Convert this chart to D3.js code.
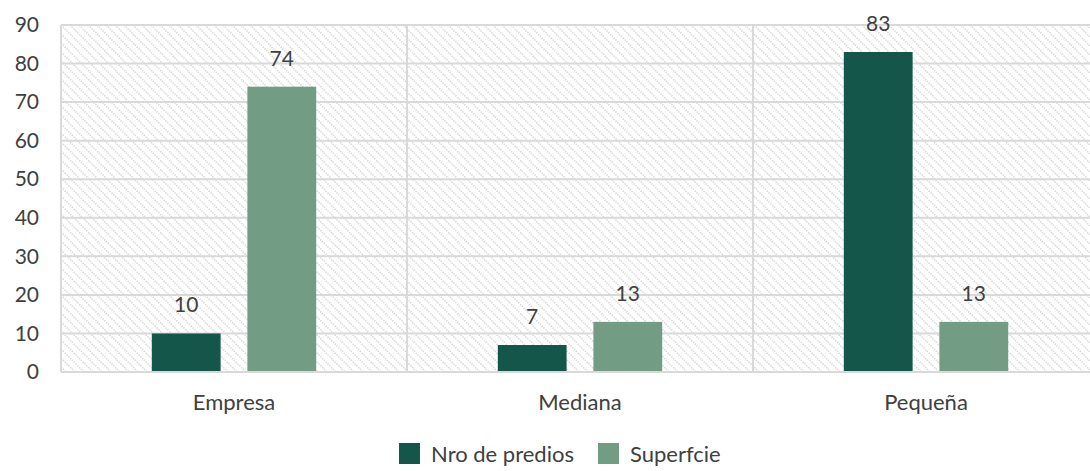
<!DOCTYPE html>
<html>
<head>
<meta charset="utf-8">
<script src="https://cdn.jsdelivr.net/npm/d3@7"></script>
<style>
  body { margin: 0; background: #fff; }
  svg text { font-family: Lato, "Open Sans", sans-serif; fill: #404040; }
</style>
</head>
<body>
<svg width="1090" height="471"></svg>
<script>
// data
var categories = ["Empresa", "Mediana", "Pequeña"];
var seriesNames = ["Nro de predios", "Superfcie"];
var nroPredios = [10, 7, 83];
var superficie = [74, 13, 13];
var yTicks = [0, 10, 20, 30, 40, 50, 60, 70, 80, 90];

var colors = ["#14574a", "#739c85"];

var svg = d3.select("svg");
var plotLeft = 61, plotRight = 1099, plotTop = 25, plotBottom = 372;

var x = d3.scaleBand()
    .domain(categories)
    .range([plotLeft, plotRight]);

var xInner = d3.scaleBand()
    .domain(seriesNames)
    .range([0, x.bandwidth()])
    .paddingInner(0.28)
    .paddingOuter(0.95);

var y = d3.scaleLinear()
    .domain([0, 90])
    .range([plotBottom, plotTop]);

// hatch pattern for the plot background
var defs = svg.append("defs");
var pat = defs.append("pattern")
    .attr("id", "hatch")
    .attr("patternUnits", "userSpaceOnUse")
    .attr("width", 9)
    .attr("height", 9);
pat.append("rect").attr("width", 9).attr("height", 9).attr("fill", "#fff");
pat.append("path")
    .attr("d", "M-2,-2 L11,11 M-2,7 L2,11 M7,-2 L11,2")
    .attr("stroke", "#d4d4d4")
    .attr("stroke-width", 1.5)
    .attr("stroke-dasharray", "1.4,1.2");

svg.append("rect")
    .attr("x", plotLeft)
    .attr("y", plotTop)
    .attr("width", plotRight - plotLeft)
    .attr("height", plotBottom - plotTop)
    .attr("fill", "url(#hatch)");

// horizontal grid
svg.append("g")
  .selectAll("line")
  .data(yTicks)
  .enter().append("line")
    .attr("x1", plotLeft)
    .attr("x2", plotRight)
    .attr("y1", function(d) { return y(d); })
    .attr("y2", function(d) { return y(d); })
    .attr("stroke", "#d9d9d9")
    .attr("stroke-width", 2);

// vertical separators between categories
svg.append("g")
  .selectAll("line")
  .data(categories)
  .enter().append("line")
    .attr("x1", function(d) { return x(d); })
    .attr("x2", function(d) { return x(d); })
    .attr("y1", plotTop)
    .attr("y2", plotBottom)
    .attr("stroke", "#d9d9d9")
    .attr("stroke-width", 2);

// y axis labels
var yAxis = svg.append("g")
    .attr("transform", "translate(" + plotLeft + ",0)")
    .call(d3.axisLeft(y).tickValues(yTicks).tickSize(0).tickPadding(22));
yAxis.select(".domain").remove();
yAxis.selectAll("text")
    .style("font-size", "21px")
    .attr("fill", "#404040");

// x axis labels
var xAxis = svg.append("g")
    .attr("transform", "translate(0," + plotBottom + ")")
    .call(d3.axisBottom(x).tickSize(0).tickPadding(22));
xAxis.select(".domain").remove();
xAxis.selectAll("text")
    .style("font-size", "22px")
    .attr("fill", "#404040");

// bars
var rows = categories.map(function(c, i) {
  return { cat: c, values: [
    { s: seriesNames[0], v: nroPredios[i] },
    { s: seriesNames[1], v: superficie[i] }
  ] };
});

var groups = svg.append("g")
  .selectAll("g")
  .data(rows)
  .enter().append("g")
    .attr("transform", function(d) { return "translate(" + x(d.cat) + ",0)"; });

groups.selectAll("rect")
  .data(function(d) { return d.values; })
  .enter().append("rect")
    .attr("x", function(d) { return xInner(d.s); })
    .attr("y", function(d) { return y(d.v); })
    .attr("width", xInner.bandwidth())
    .attr("height", function(d) { return plotBottom - y(d.v); })
    .attr("fill", function(d, i) { return colors[i]; });

groups.selectAll("text.val")
  .data(function(d) { return d.values; })
  .enter().append("text")
    .attr("class", "val")
    .attr("x", function(d) { return xInner(d.s) + xInner.bandwidth() / 2; })
    .attr("y", function(d) { return y(d.v) - 21; })
    .attr("text-anchor", "middle")
    .style("font-size", "21px")
    .text(function(d) { return d.v; });

// bottom axis line
svg.append("line")
    .attr("x1", plotLeft)
    .attr("x2", plotRight)
    .attr("y1", plotBottom)
    .attr("y2", plotBottom)
    .attr("stroke", "#d9d9d9")
    .attr("stroke-width", 2);

// legend
var legend = svg.append("g").attr("transform", "translate(399,443)");
var legX = [0, 199];
seriesNames.forEach(function(name, i) {
  legend.append("rect")
      .attr("x", legX[i])
      .attr("y", 0)
      .attr("width", 21)
      .attr("height", 21)
      .attr("fill", colors[i]);
  legend.append("text")
      .attr("x", legX[i] + 32)
      .attr("y", 19)
      .style("font-size", "22px")
      .text(name);
});
</script>
</body>
</html>
